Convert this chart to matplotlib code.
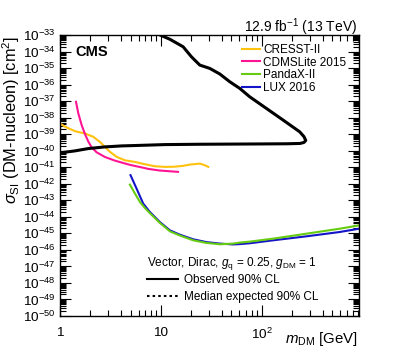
import numpy as np
import matplotlib
matplotlib.use("Agg")
import matplotlib.pyplot as plt
from matplotlib.ticker import LogLocator, FuncFormatter, NullFormatter, FixedLocator
from matplotlib.lines import Line2D

plt.rcParams['font.family'] = ['Liberation Sans', 'DejaVu Sans']
plt.rcParams['mathtext.fontset'] = 'custom'
plt.rcParams['mathtext.rm'] = 'Liberation Sans'
plt.rcParams['mathtext.it'] = 'Liberation Sans:italic'
plt.rcParams['mathtext.bf'] = 'Liberation Sans:bold'

# CMS observed 90% CL contour (lower branch, then back along the upper branch), log10 of xsec
obs_mass = [1, 1.41, 1.91, 2.79, 4.08, 5.3, 11, 24, 50, 100, 180, 240, 262, 273,
            262, 238, 163, 111, 76, 60.5, 48.2, 38.4, 30.5, 24.3, 20.1, 16.6, 12.3, 9.8]
obs_logxs = [-40.13, -40.01, -39.87, -39.77, -39.71, -39.69, -39.63, -39.61, -39.6, -39.59,
             -39.58, -39.56, -39.5, -39.38,
             -39.15, -38.86, -38.15, -37.44, -36.74, -36.23, -35.83, -35.36, -35.02, -34.82,
             -34.32, -33.71, -33.26, -33.0]

# direct detection limits
cresst_mass = [1, 1.12, 1.41, 1.77, 2.14, 2.49, 2.79, 3.13, 3.64, 4.4, 5.53, 6.95, 8.72,
               10.96, 13.5, 16.5, 19.3, 24.3, 27.3, 29.5]
cresst_logxs = [-38.35, -38.55, -38.82, -38.96, -39.16, -39.47, -39.77, -40.07, -40.37, -40.58,
                -40.68, -40.82, -40.94, -40.98, -40.97, -40.92, -40.84, -40.78, -40.88, -40.98]

cdms_mass = [1.44, 1.52, 1.64, 1.77, 1.91, 2.06, 2.31, 2.79, 3.5, 4.57, 5.13, 6.68, 7.48, 9.78, 14.8]
cdms_logxs = [-37.04, -37.75, -38.45, -39.0, -39.45, -39.8, -40.1, -40.38, -40.6, -40.8,
              -40.88, -41.03, -41.1, -41.2, -41.28]

lux_mass = [5.0, 5.74, 6.68, 7.78, 9.78, 12.3, 15.4, 20.9, 28.3, 38.4, 52, 60.5, 76, 130,
            277, 590, 920]
lux_logxs = [-41.48, -42.29, -43.2, -43.71, -44.32, -44.82, -45.08, -45.36, -45.53, -45.62,
             -45.67, -45.65, -45.6, -45.42, -45.18, -44.92, -44.72]

pandax_mass = [4.93, 5.53, 6.2, 6.95, 7.78, 9.78, 12.3, 15.4, 20.9, 28.3, 38.4, 52, 60.5, 76,
               130, 277, 590, 920]
pandax_logxs = [-42.05, -42.59, -43.1, -43.47, -43.78, -44.37, -44.88, -45.13, -45.42, -45.58,
                -45.66, -45.62, -45.56, -45.5, -45.32, -45.02, -44.72, -44.52]

y_decades = np.arange(-50, -32)

fig = plt.figure(figsize=(3.99, 3.51), dpi=100)
ax = fig.add_axes([60 / 399, 1 - 316 / 351, 299 / 399, 281 / 351])

ax.plot(cresst_mass, 10.0 ** np.array(cresst_logxs), color='#FFC20E', lw=1.5)
ax.plot(cdms_mass, 10.0 ** np.array(cdms_logxs), color='#FF1493', lw=1.5)
ax.plot(lux_mass, 10.0 ** np.array(lux_logxs), color='#1414C8', lw=1.5)
ax.plot(pandax_mass, 10.0 ** np.array(pandax_logxs), color='#66CC11', lw=1.5)
ax.plot(obs_mass, 10.0 ** np.array(obs_logxs), color='black', lw=2.2, solid_joinstyle='round')

ax.set_xscale('log')
ax.set_yscale('log')
ax.set_xlim(1, 920)
ax.set_ylim(1e-50, 1e-33)

ax.yaxis.set_major_locator(FixedLocator(10.0 ** y_decades))
ax.yaxis.set_minor_locator(LogLocator(base=10, subs=np.arange(2, 10), numticks=300))
ax.yaxis.set_minor_formatter(NullFormatter())
ax.xaxis.set_minor_locator(LogLocator(base=10, subs=np.arange(2, 10), numticks=30))
ax.xaxis.set_minor_formatter(NullFormatter())
ax.xaxis.set_major_formatter(FuncFormatter(
    lambda v, p: {1: '1', 10: '10'}.get(int(round(v)), r'$10^{%d}$' % round(np.log10(v)))))

ax.tick_params(which='both', direction='in', top=True, right=True, labelsize=9.7, width=0.8)
ax.tick_params(which='major', length=8)
ax.tick_params(which='minor', length=4)
ax.tick_params(axis='x', pad=8)
ax.tick_params(axis='y', pad=3)
for s in ax.spines.values():
    s.set_linewidth(1)

# texts
fig.text(75 / 399, 1 - 52 / 351, 'CMS', fontsize=10.5, fontweight='bold', va='center')
fig.text(357 / 399, 1 - 27 / 351, r'12.9 fb$^{-1}$ (13 TeV)', fontsize=10, ha='right', va='center')
fig.text(11 / 399, 1 - 36 / 351, r'$\sigma_{\mathrm{SI}}$ (DM-nucleon) [cm$^{2}$]',
         rotation=90, fontsize=11.8, ha='center', va='top')
fig.text(358 / 399, 1 - 339 / 351, r'$m_{\mathrm{DM}}$ [GeV]', fontsize=10.8, ha='right', va='center')

# top-right legend
leg1 = ax.legend(handles=[Line2D([], [], color='#FFC20E', lw=1.5),
                          Line2D([], [], color='#FF1493', lw=1.5),
                          Line2D([], [], color='#66CC11', lw=1.5),
                          Line2D([], [], color='#1414C8', lw=1.5)],
                 labels=['CRESST-II', 'CDMSLite 2015', 'PandaX-II', 'LUX 2016'],
                 loc='upper left', bbox_to_anchor=((242 - 60) / 299, 1 - 9 / 281),
                 frameon=False, fontsize=8.5, handlelength=1.5, handletextpad=0.3,
                 labelspacing=0.05, borderpad=0, borderaxespad=0)
ax.add_artist(leg1)

# bottom legend
fig.text(147 / 399, 1 - 263 / 351, r'Vector, Dirac, $g_{\mathrm{q}}$ = 0.25, $g_{\mathrm{DM}}$ = 1',
         fontsize=8.5, va='center')
ax.legend(handles=[Line2D([], [], color='black', lw=1.5),
                   Line2D([], [], color='black', lw=1.5, ls=(0, (1.2, 1.5)))],
          labels=['Observed 90% CL', 'Median expected 90% CL'],
          loc='upper left', bbox_to_anchor=((147 - 60) / 299, 1 - (274 - 35) / 281),
          frameon=False, fontsize=8.5, handlelength=2.6, handletextpad=0.5,
          labelspacing=0.45, borderpad=0, borderaxespad=0)

fig.savefig('out.png', dpi=100)
